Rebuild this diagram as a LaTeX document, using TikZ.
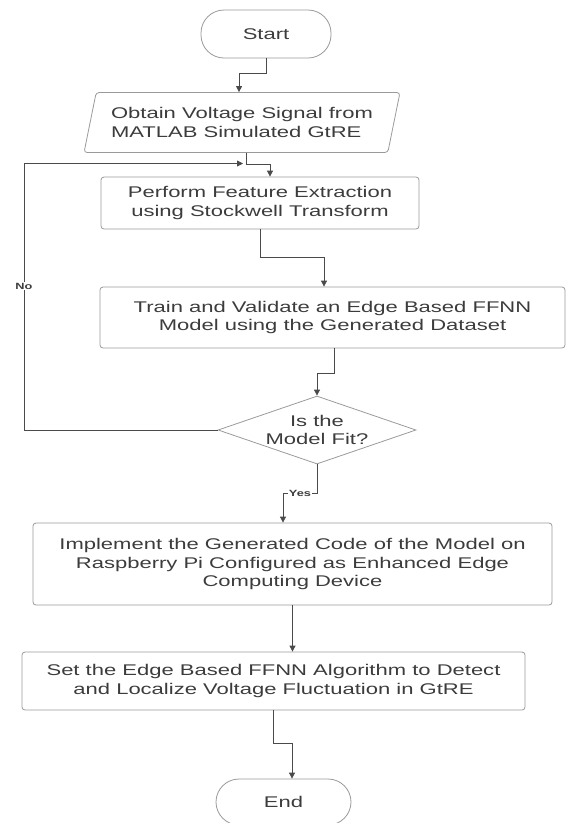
\documentclass[tikz,border=0pt]{standalone}
\usepackage{fontspec}
\setmainfont{Liberation Sans}[FakeStretch=1.42]
\usepackage{tikz}
\usetikzlibrary{shapes.geometric,arrows.meta}

\definecolor{txtgray}{HTML}{3C3C3C}
\definecolor{boxgray}{HTML}{9A9A9A}
\definecolor{linegray}{HTML}{4A4A4A}

\tikzset{
    base/.style={draw=boxgray, line width=0.8pt, text=txtgray, font=\fontsize{15.5}{18.6}\selectfont, align=center, inner sep=0pt},
    terminal/.style={base, rectangle, rounded corners=23pt},
    process/.style={base, rectangle, rounded corners=3pt},
    io/.style={base, trapezium, trapezium left angle=70, trapezium right angle=110, trapezium stretches=true, rounded corners=3pt, align=left},
    decision/.style={base, diamond, aspect=2.9, inner sep=-3pt},
    flow/.style={draw=linegray, line width=0.8pt, -{Triangle[width=6pt,length=6pt]}},
    tag/.style={fill=white, text=txtgray, font=\fontsize{9}{10}\selectfont\bfseries, inner sep=1pt},
}

\begin{document}
\begin{tikzpicture}[x=1pt, y=-1pt]
    \useasboundingbox (0,0) rectangle (566,823);

    \node[terminal, minimum width=130pt, minimum height=48pt] at (266, 34) (start) {Start};
    \node[io, minimum width=316pt, minimum height=60pt] at (242, 122.5) (input) {Obtain Voltage Signal from\\MATLAB Simulated GtRE};
    \node[process, minimum width=318pt, minimum height=52pt] at (260, 203) (extract) {Perform Feature Extraction\\using Stockwell Transform};
    \node[process, minimum width=465pt, minimum height=61pt] at (332.5, 317.5) (train) {Train and Validate an Edge Based FFNN\\Model using the Generated Dataset};
    \node[decision, minimum width=198pt, minimum height=68pt] at (317, 430) (fit) {Is the\\Model Fit?};
    \node[process, minimum width=519pt, minimum height=82pt] at (292.5, 564) (impl) {Implement the Generated Code of the Model on\\Raspberry Pi Configured as Enhanced Edge\\Computing Device};
    \node[process, minimum width=503pt, minimum height=58pt] at (273.5, 681) (setalg) {Set the Edge Based FFNN Algorithm to Detect\\and Localize Voltage Fluctuation in GtRE};
    \node[terminal, minimum width=135pt, minimum height=46pt] at (283.5, 802) (finish) {End};

    \coordinate (join) at (243, 163.5);

    \draw[flow] (start.south) -- ++(0,15) -| ([xshift=-3pt]input.north);
    \draw[flow] ([xshift=4pt]input.south) -- ++(0,11) -| ([xshift=10pt]extract.north);
    \draw[flow] (extract.south) -- ++(0,28) -| ([xshift=-8.5pt]train.north);
    \draw[flow] ([xshift=1.5pt]train.south) -- ++(0,25) -| (fit.north);
    \draw[flow] (fit.south) -- ++(0,29) -| node[tag, pos=0.25] {Yes} ([xshift=-9.5pt]impl.north);
    \draw[flow] (impl.south) -- (impl.south |- setalg.north);
    \draw[flow] (setalg.south) -- ++(0,33) -| ([xshift=8.5pt]finish.north);
    \draw[flow] (fit.west) -- (24, 430) |- node[tag, pos=0.27] {No} (join);
\end{tikzpicture}
\end{document}
